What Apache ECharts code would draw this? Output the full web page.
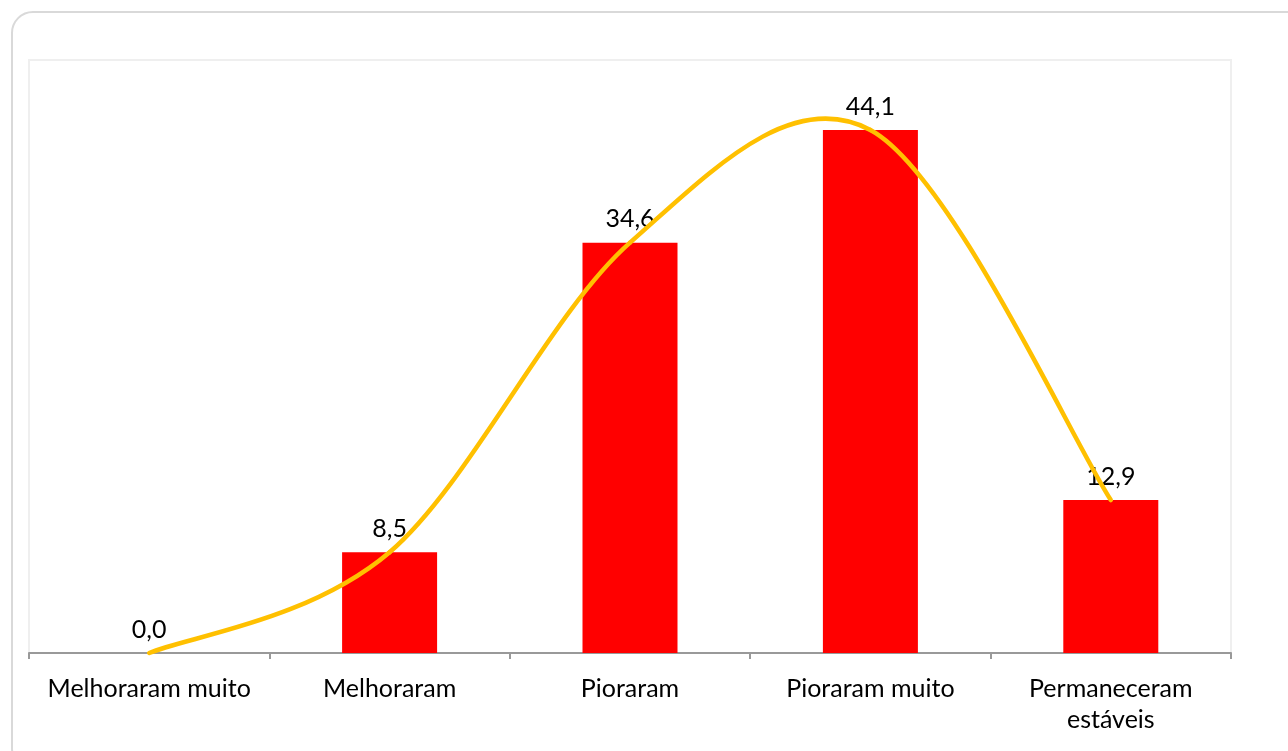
<!DOCTYPE html>
<html>
<head>
<meta charset="utf-8">
<script src="https://cdn.jsdelivr.net/npm/echarts@6/dist/echarts.min.js"></script>
<style>
html,body{margin:0;padding:0;background:#fff;overflow:hidden;}
#card{position:absolute;left:11px;top:11px;width:1300px;height:760px;border:2px solid #d9d9d9;border-radius:22px;box-sizing:border-box;}
#chart{position:absolute;left:0;top:0;width:1288px;height:751px;}
</style>
</head>
<body>
<div id="card"></div>
<div id="chart"></div>
<script>
const categories = ['Melhoraram muito', 'Melhoraram', 'Pioraram', 'Pioraram muito', 'Permaneceram\nestáveis'];
const barValues = [0.0, 8.5, 34.6, 44.1, 12.9];
const lineValues = [0.0, 8.5, 34.6, 44.1, 12.9];

const chart = echarts.init(document.getElementById('chart'));
const fontFam = "Lato, 'Open Sans', sans-serif";

function renderSegment(params, api) {
  const n = params.dataInsideLength;
  const i = params.dataIndexInside;
  if (i >= n - 1) return null;
  const pt = k => {
    const kk = Math.max(0, Math.min(n - 1, k));
    return api.coord([kk, api.value(1, kk)]);
  };
  const p0 = pt(i - 1), p1 = pt(i), p2 = pt(i + 1), p3 = pt(i + 2);
  const c1 = [p1[0] + (p2[0] - p0[0]) / 6, p1[1] + (p2[1] - p0[1]) / 6];
  const c2 = [p2[0] - (p3[0] - p1[0]) / 6, p2[1] - (p3[1] - p1[1]) / 6];
  return {
    type: 'bezierCurve',
    shape: {x1: p1[0], y1: p1[1], x2: p2[0], y2: p2[1], cpx1: c1[0], cpy1: c1[1], cpx2: c2[0], cpy2: c2[1]},
    style: {stroke: '#ffc000', lineWidth: 4.5, fill: null, lineCap: 'round'},
    silent: true
  };
}

chart.setOption({
  animation: false,
  backgroundColor: 'transparent',
  grid: {left: 29, right: 57, top: 60, bottom: 98, show: true, borderColor: '#efefef', borderWidth: 2, containLabel: false},
  xAxis: {
    type: 'category',
    data: categories,
    axisLine: {show: true, lineStyle: {color: '#999', width: 2}},
    axisTick: {show: true, length: 6, lineStyle: {color: '#999', width: 2}},
    axisLabel: {color: '#000', fontSize: 25, fontFamily: fontFam, margin: 20, lineHeight: 31, interval: 0}
  },
  yAxis: {type: 'value', min: 0, max: 50, show: false, splitLine: {show: false}},
  series: [
    {
      type: 'bar',
      data: barValues,
      barWidth: 95,
      itemStyle: {color: '#ff0000'},
      label: {show: true, position: 'top', distance: 11, color: '#000', fontSize: 25, fontFamily: fontFam,
        formatter: p => p.value.toFixed(1).replace('.', ',')}
    },
    {
      type: 'custom',
      data: lineValues.map((v, k) => [k, v]),
      encode: {x: 0, y: 1},
      renderItem: renderSegment,
      z: 3
    }
  ]
});
</script>
</body>
</html>
